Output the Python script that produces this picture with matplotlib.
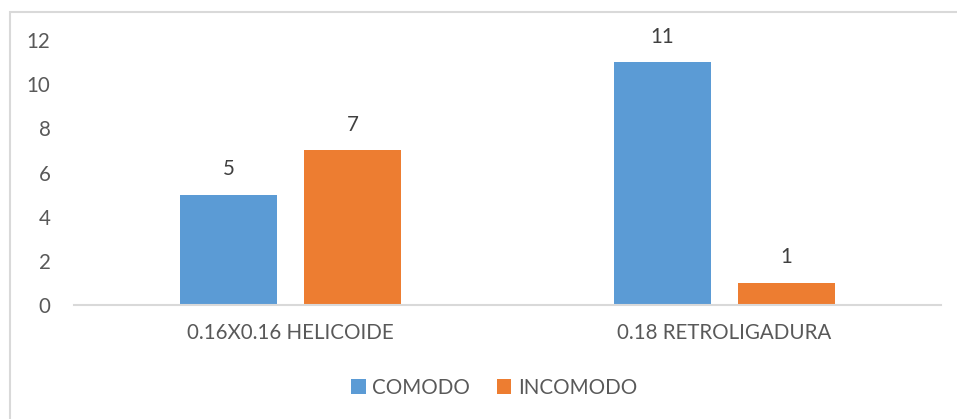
import matplotlib.pyplot as plt
from matplotlib.patches import Rectangle

# Data
categories = ["0.16X0.16 HELICOIDE", "0.18 RETROLIGADURA"]
series_names = ["COMODO", "INCOMODO"]
comodo = [5, 11]
incomodo = [7, 1]
colors = ["#5b9bd5", "#ed7d31"]
text_color = "#595959"
line_color = "#d9d9d9"

plt.rcParams["font.family"] = ["Lato", "DejaVu Sans"]

fig = plt.figure(figsize=(9.57, 4.19), dpi=100)
ax = fig.add_axes([74 / 957, 1 - 305 / 419, 867 / 957, 265 / 419])

# Chart frame (right and bottom edges fall outside the picture)
fig.patches.append(Rectangle((10 / 957, -0.1), 1.2, 1 - 12 / 419 + 0.1,
                             transform=fig.transFigure, fill=False,
                             edgecolor=line_color, linewidth=1.5))

width = 0.224
offset = 0.143
x = range(len(categories))
for vals, name, col, off in zip([comodo, incomodo], series_names, colors, [-offset, offset]):
    pos = [i + off for i in x]
    bars = ax.bar(pos, vals, width=width, color=col, label=name)
    for b, v in zip(bars, vals):
        ax.text(b.get_x() + b.get_width() / 2, v + 0.7, str(v),
                ha="center", va="bottom", fontsize=14.8, color="#404040")

ax.set_xlim(-0.5, 1.5)
ax.set_ylim(0, 12)
ax.set_yticks(range(0, 13, 2))
ax.set_xticks(list(x))
ax.set_xticklabels(categories)
ax.tick_params(axis="both", length=0, labelsize=14.8, colors=text_color)
ax.tick_params(axis="y", pad=17)
ax.tick_params(axis="x", pad=13)
for s in ["top", "right", "left"]:
    ax.spines[s].set_visible(False)
ax.spines["bottom"].set_color(line_color)
ax.spines["bottom"].set_linewidth(1.5)

leg = fig.legend(loc="center", bbox_to_anchor=(494 / 957, 1 - 388 / 419), ncol=2,
                 frameon=False, fontsize=14.8, handlelength=0.72, handleheight=0.72,
                 handletextpad=0.3, columnspacing=1.3)
for t in leg.get_texts():
    t.set_color(text_color)

fig.savefig("out.png", dpi=100)
